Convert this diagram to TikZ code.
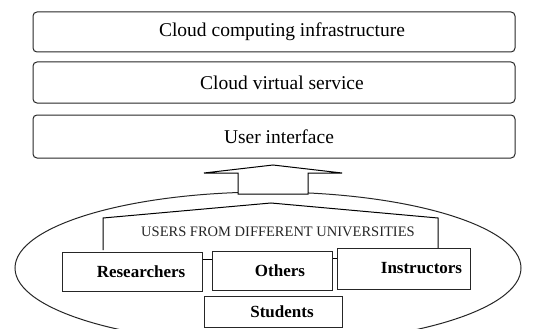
\documentclass[tikz,border=0pt]{standalone}
\usepackage{fontspec}
\setmainfont{Liberation Serif}
\usetikzlibrary{shapes.geometric}
\begin{document}
\begin{tikzpicture}[x=1pt,y=-1pt,line width=1pt,
  layer/.style={draw=black!85,rounded corners=4pt,minimum width=482pt,inner sep=0pt,
    font=\fontsize{19.5}{22}\selectfont},
  role/.style={draw=black!85,inner sep=0pt,font=\bfseries\fontsize{17}{20}\selectfont}]
\useasboundingbox (0,0) rectangle (546,329);
\clip (0,0) rectangle (546,329);

% service layers
\node[layer,minimum height=40pt] (infra) at (274,32) {\hspace*{16pt}\raisebox{-2pt}{Cloud computing infrastructure}};
\node[layer,minimum height=41pt] (virt) at (274,82.5) {\hspace*{16pt}Cloud virtual service};
\node[layer,minimum height=43pt] (ui) at (274,136.5) {\hspace*{10pt}User interface};

% user community
\node[draw=black!85,ellipse,minimum width=506pt,minimum height=152pt,inner sep=0pt] (users) at (268,268) {};

% block arrow from the users up to the interface
\draw[fill=white,line join=miter]
  (238,194) -- (238,173) -- (204,173) -- (273,165) coordinate (tip)
  -- (342,173) -- (308,173) -- (308,194) -- cycle;

% roof over the groups
\draw (103,250) -- (103,218) -- (271,203) -- (438,218) -- (438,248);
\node[font=\fontsize{14.5}{17}\selectfont,text=black!85] (title) at (278,232)
  {USERS FROM DIFFERENT UNIVERSITIES};

% user groups
\node[role,minimum width=140pt,minimum height=39pt] (res) at (132,271.5) {\hspace*{18pt}Researchers};
\node[role,minimum width=120pt,minimum height=39pt] (oth) at (272,270.5) {\hspace*{16pt}Others};
\node[role,minimum width=133pt,minimum height=41pt] (ins) at (403.5,268.5) {\hspace*{36pt}\raisebox{1pt}{Instructors}};
\node[role,minimum width=138pt,minimum height=31pt] (stu) at (273,311.5) {\hspace*{18pt}\raisebox{-3pt}{Students}};

% links between neighbouring groups
\draw ([yshift=12.5pt]res.east) coordinate (l1) -- (l1 -| oth.west);
\draw ([yshift=12.5pt]oth.east) coordinate (l2) -- (l2 -| ins.west);
\end{tikzpicture}
\end{document}
